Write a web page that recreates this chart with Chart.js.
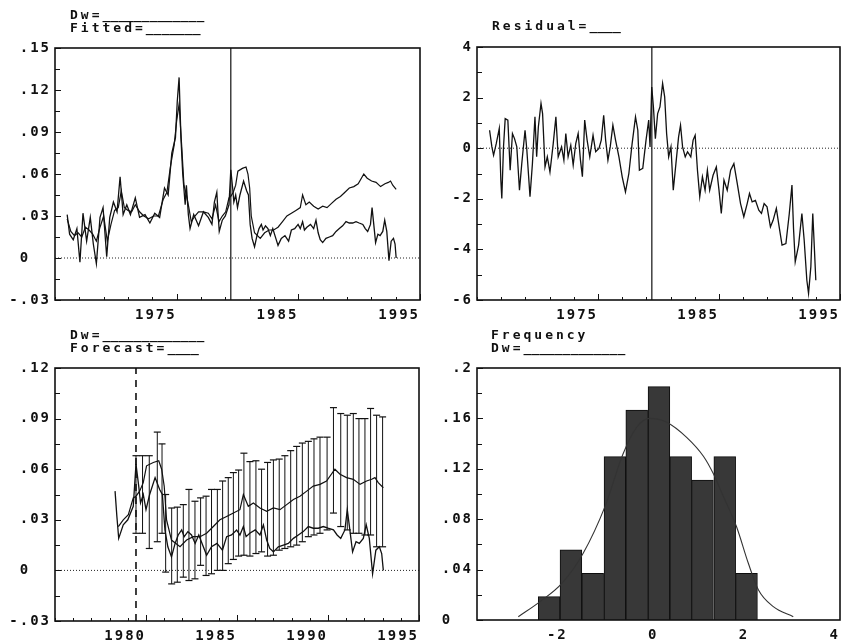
<!DOCTYPE html>
<html>
<head>
<meta charset="utf-8">
<title>Dw: fitted, residual, forecast, frequency</title>
<script src="https://cdn.jsdelivr.net/npm/chart.js@4.4.1/dist/chart.umd.min.js"></script>
<style>
    html, body { margin: 0; padding: 0; background: #fff; }
    #page { position: relative; width: 848px; height: 643px; overflow: hidden; background: #fff; }
    #page canvas { position: absolute; display: block; }
    .caption {
        position: absolute;
        font: bold 13px "DejaVu Sans Mono", monospace;
        line-height: 13px;
        letter-spacing: 3px;
        color: #111;
        white-space: pre;
    }
    .blank { letter-spacing: 0; }
</style>
</head>
<body>
<div id="page">
    <canvas id="fitChart" width="427" height="322" style="left:0;top:0"></canvas>
    <canvas id="residChart" width="425" height="322" style="left:422px;top:0"></canvas>
    <canvas id="forecastChart" width="426" height="323" style="left:0;top:320px"></canvas>
    <canvas id="freqChart" width="425" height="323" style="left:422px;top:320px"></canvas>

    <div class="caption" style="left:70px;top:8px">Dw=<span class="blank">_____________</span>
Fitted=<span class="blank">_______</span></div>
    <div class="caption" style="left:492px;top:19px">Residual=<span class="blank">____</span></div>
    <div class="caption" style="left:70px;top:328px">Dw=<span class="blank">_____________</span>
Forecast=<span class="blank">____</span></div>
    <div class="caption" style="left:491px;top:328px">Frequency
Dw=<span class="blank">_____________</span></div>
</div>

<script>
// THEME
const INK = '#111';
const TICK_FONT = { family: "'DejaVu Sans Mono', monospace", size: 14, weight: 'bold' };

// SAMPLE SPLIT (end of estimation period)
const splitYear = 1979.45;

// DW: ACTUAL SERIES
const dwYears = [
    1966.00, 1966.20, 1966.50, 1966.80, 1967.05, 1967.30, 1967.60, 1967.90, 1968.15, 1968.40,
    1968.70, 1968.95, 1969.25, 1969.50, 1969.80, 1970.10, 1970.35, 1970.60, 1970.90, 1971.20,
    1971.60, 1971.95, 1972.40, 1972.80, 1973.20, 1973.60, 1974.00, 1974.30, 1974.60, 1974.90,
    1975.05, 1975.20, 1975.35, 1975.50, 1975.70, 1975.80, 1975.96, 1976.10, 1976.40, 1976.80,
    1977.20, 1977.60, 1977.90, 1978.10, 1978.30, 1978.40, 1978.50, 1978.75, 1979.00, 1979.30,
    1979.45, 1979.60, 1979.70, 1979.85, 1980.00, 1980.20, 1980.50, 1980.75, 1980.90, 1981.04,
    1981.20, 1981.40, 1981.60, 1981.77, 1981.96, 1982.10, 1982.30, 1982.50, 1982.70, 1982.90,
    1983.15, 1983.33, 1983.60, 1983.90, 1984.20, 1984.43, 1984.70, 1984.98, 1985.16, 1985.35,
    1985.50, 1985.70, 1986.00, 1986.26, 1986.45, 1986.63, 1986.80, 1987.00, 1987.27, 1987.55,
    1987.82, 1988.10, 1988.37, 1988.64, 1988.92, 1989.19, 1989.47, 1989.74, 1990.00, 1990.30,
    1990.50, 1990.70, 1990.93, 1991.06, 1991.20, 1991.35, 1991.54, 1991.72, 1991.94, 1992.10,
    1992.27, 1992.45, 1992.63, 1992.82, 1992.95, 1993.04
];
const dwValues = [
    0.031, 0.017, 0.013, 0.021, -0.003, 0.032, 0.012, 0.029, 0.010, -0.004,
    0.029, 0.036, 0.001, 0.029, 0.040, 0.033, 0.058, 0.031, 0.038, 0.031,
    0.043, 0.029, 0.031, 0.025, 0.032, 0.029, 0.050, 0.045, 0.075, 0.086,
    0.112, 0.129, 0.086, 0.060, 0.038, 0.052, 0.031, 0.021, 0.031, 0.023,
    0.033, 0.029, 0.024, 0.040, 0.047, 0.032, 0.019, 0.027, 0.030, 0.038,
    0.063, 0.050, 0.040, 0.045, 0.036, 0.045, 0.055, 0.048, 0.045, 0.024,
    0.014, 0.008, 0.016, 0.021, 0.024, 0.020, 0.023, 0.021, 0.016, 0.021,
    0.014, 0.009, 0.014, 0.016, 0.012, 0.020, 0.021, 0.024, 0.021, 0.026,
    0.020, 0.022, 0.024, 0.021, 0.027, 0.018, 0.013, 0.011, 0.014, 0.015,
    0.016, 0.019, 0.021, 0.023, 0.026, 0.025, 0.025, 0.026, 0.025, 0.024,
    0.021, 0.019, 0.024, 0.036, 0.024, 0.011, 0.017, 0.016, 0.019, 0.027,
    0.019, -0.002, 0.012, 0.014, 0.010, 0.000
];

// FITTED / FORECAST SERIES
const fitYears = [
    1966.00, 1966.30, 1966.60, 1966.90, 1967.20, 1967.50, 1967.80, 1968.10, 1968.40, 1968.70,
    1969.00, 1969.30, 1969.60, 1969.90, 1970.20, 1970.45, 1970.70, 1971.00, 1971.30, 1971.60,
    1971.95, 1972.30, 1972.70, 1973.10, 1973.50, 1973.90, 1974.20, 1974.50, 1974.80, 1975.00,
    1975.20, 1975.40, 1975.60, 1975.80, 1976.00, 1976.20, 1976.50, 1976.80, 1977.20, 1977.60,
    1977.90, 1978.20, 1978.48, 1978.75, 1979.03, 1979.30, 1979.45, 1979.65, 1979.85, 1980.03,
    1980.40, 1980.70, 1980.86, 1981.00, 1981.13, 1981.40, 1981.87, 1982.23, 1982.60, 1982.97,
    1983.33, 1983.70, 1984.06, 1984.43, 1984.80, 1985.16, 1985.35, 1985.62, 1985.90, 1986.26,
    1986.63, 1987.00, 1987.36, 1987.73, 1988.10, 1988.46, 1988.83, 1989.19, 1989.56, 1989.92,
    1990.38, 1990.66, 1991.02, 1991.39, 1991.76, 1992.12, 1992.40, 1992.58, 1992.76, 1993.04
];
const fitValues = [
    0.028, 0.019, 0.016, 0.018, 0.015, 0.022, 0.020, 0.017, 0.012, 0.022,
    0.030, 0.012, 0.024, 0.034, 0.036, 0.048, 0.036, 0.034, 0.033, 0.038,
    0.033, 0.030, 0.028, 0.030, 0.030, 0.042, 0.047, 0.066, 0.081, 0.098,
    0.110, 0.082, 0.052, 0.045, 0.036, 0.026, 0.030, 0.033, 0.033, 0.032,
    0.028, 0.038, 0.026, 0.030, 0.033, 0.043, 0.044, 0.047, 0.052, 0.062,
    0.064, 0.065, 0.060, 0.050, 0.030, 0.018, 0.014, 0.018, 0.020, 0.020,
    0.022, 0.026, 0.030, 0.032, 0.034, 0.036, 0.045, 0.038, 0.040, 0.037,
    0.035, 0.037, 0.036, 0.039, 0.042, 0.044, 0.047, 0.050, 0.051, 0.053,
    0.060, 0.057, 0.055, 0.054, 0.051, 0.053, 0.054, 0.055, 0.052, 0.049
];

// RESIDUAL SERIES
const residYears = [
    1966.04, 1966.23, 1966.37, 1966.59, 1966.84, 1966.97, 1967.05, 1967.19, 1967.33, 1967.55,
    1967.74, 1967.93, 1968.10, 1968.29, 1968.51, 1968.70, 1968.97, 1969.11, 1969.38, 1969.58,
    1969.79, 1969.93, 1970.07, 1970.29, 1970.42, 1970.62, 1970.81, 1971.03, 1971.30, 1971.52,
    1971.71, 1971.99, 1972.18, 1972.34, 1972.53, 1972.75, 1972.95, 1973.16, 1973.36, 1973.55,
    1973.71, 1973.90, 1974.10, 1974.32, 1974.59, 1974.81, 1975.08, 1975.27, 1975.47, 1975.63,
    1975.82, 1976.01, 1976.23, 1976.45, 1976.73, 1977.00, 1977.27, 1977.55, 1977.82, 1978.10,
    1978.29, 1978.42, 1978.70, 1978.97, 1979.19, 1979.30, 1979.44, 1979.58, 1979.74, 1979.93,
    1980.12, 1980.34, 1980.51, 1980.67, 1980.84, 1981.03, 1981.22, 1981.44, 1981.66, 1981.82,
    1981.99, 1982.21, 1982.40, 1982.67, 1982.86, 1983.03, 1983.22, 1983.41, 1983.63, 1983.85,
    1984.04, 1984.23, 1984.51, 1984.78, 1985.00, 1985.19, 1985.41, 1985.68, 1985.96, 1986.23,
    1986.51, 1986.78, 1987.05, 1987.33, 1987.52, 1987.74, 1988.01, 1988.29, 1988.51, 1988.73,
    1988.97, 1989.25, 1989.47, 1989.74, 1989.93, 1990.21, 1990.53, 1990.81, 1991.03, 1991.16,
    1991.30, 1991.58, 1991.85, 1992.04, 1992.26, 1992.40, 1992.59, 1992.75, 1992.89, 1993.00
];
const residValues = [
    0.71, 0.05, -0.28, 0.18, 0.78, -1.26, -1.99, 0.05, 1.17, 1.11,
    -0.87, 0.58, 0.38, 0.05, -1.66, -0.61, 0.71, -0.01, -1.92, -0.61,
    1.24, -0.34, 0.84, 1.77, 1.37, -0.74, -0.34, -0.94, 0.18, 1.24,
    -0.34, 0.05, -0.47, 0.58, -0.34, 0.12, -0.67, 0.18, 0.58, -0.47,
    -1.13, 1.11, 0.32, -0.34, 0.51, -0.14, -0.01, 0.32, 1.30, 0.32,
    -0.47, 0.05, 0.91, 0.32, -0.34, -1.13, -1.73, -1.00, 0.18, 1.24,
    0.71, -0.87, -0.80, 0.32, 1.11, 0.05, 2.42, 1.63, 0.38, 1.37,
    1.63, 2.56, 2.03, 0.58, -0.34, 0.05, -1.66, -0.61, 0.45, 0.91,
    0.05, -0.34, -0.14, -0.34, 0.32, 0.51, -0.87, -1.92, -1.13, -1.66,
    -0.87, -1.66, -1.07, -0.74, -1.66, -2.58, -1.26, -1.66, -0.87, -0.61,
    -1.40, -2.19, -2.71, -2.19, -1.79, -2.12, -2.06, -2.45, -2.58, -2.19,
    -2.32, -3.11, -2.85, -2.38, -2.98, -3.83, -3.77, -2.58, -1.46, -3.18,
    -4.49, -3.83, -2.58, -3.64, -5.22, -5.74, -4.69, -2.58, -4.03, -5.22
];

// FORECAST INTERVALS
const bandYears = [
    1979.45, 1979.81, 1980.18, 1980.62, 1980.88, 1981.08, 1981.41, 1981.72, 1982.05, 1982.36,
    1982.69, 1983.00, 1983.30, 1983.60, 1983.92, 1984.21, 1984.52, 1984.80, 1985.09, 1985.38,
    1985.71, 1986.04, 1986.35, 1986.68, 1987.00, 1987.32, 1987.63, 1987.95, 1988.28, 1988.59,
    1988.92, 1989.23, 1989.56, 1989.95, 1990.30, 1990.70, 1991.06, 1991.39, 1991.70, 1992.03,
    1992.34, 1992.67, 1993.00
];
const bandUpper = [
    0.068, 0.068, 0.068, 0.082, 0.075, 0.045, 0.037, 0.0375, 0.039, 0.048,
    0.041, 0.043, 0.044, 0.048, 0.048, 0.053, 0.055, 0.058, 0.0595, 0.0695,
    0.0645, 0.065, 0.060, 0.064, 0.0655, 0.066, 0.068, 0.071, 0.0735, 0.0755,
    0.0765, 0.078, 0.079, 0.079, 0.0965, 0.093, 0.092, 0.093, 0.090, 0.090,
    0.096, 0.092, 0.091
];
const bandLower = [
    0.022, 0.022, 0.013, 0.017, 0.022, -0.001, -0.008, -0.007, -0.004, -0.006,
    -0.005, 0.003, -0.003, -0.002, 0.000, 0.000, 0.004, 0.0065, 0.0085, 0.009,
    0.0085, 0.010, 0.011, 0.0085, 0.009, 0.012, 0.013, 0.014, 0.015, 0.017,
    0.020, 0.021, 0.022, 0.024, 0.034, 0.026, 0.024, 0.022, 0.022, 0.021,
    0.021, 0.014, 0.014
];

// RESIDUAL FREQUENCY (histogram bins + smoothed density)
const binCenters = [-2.41, -1.93, -1.45, -0.96, -0.48, 0.01, 0.49, 0.97, 1.46, 1.94];
const binFreq = [0.0185, 0.0556, 0.0370, 0.1296, 0.1667, 0.1852, 0.1296, 0.1111, 0.1296, 0.0370];
const densityX = [-3.09, -2.61, -2.13, -1.66, -1.18, -0.78, -0.48, -0.19, 0.18, 0.62, 0.99, 1.21, 1.43, 1.72, 1.98, 2.20, 2.53, 2.97];
const densityY = [0.0026, 0.0146, 0.029, 0.053, 0.090, 0.132, 0.153, 0.160, 0.157, 0.145, 0.130, 0.116, 0.098, 0.074, 0.045, 0.024, 0.0106, 0.0026];

// TICK LABELS
const longYearLabels = [1975, 1985, 1995];
const shortYearLabels = [1980, 1985, 1990, 1995];
const fitTickLabels = [-0.03, 0, 0.03, 0.06, 0.09, 0.12, 0.15];
const residTickLabels = [-6, -4, -2, 0, 2, 4];
const forecastTickLabels = [-0.03, 0, 0.03, 0.06, 0.09, 0.12];
const freqTickLabels = [0, 0.04, 0.08, 0.12, 0.16, 0.2];
const freqXLabels = [-2, 0, 2, 4];

// HELPERS
function toPoints(xs, ys, fromX) {
    return xs.map((x, i) => ({ x, y: ys[i] })).filter(p => fromX === undefined || p.x >= fromX);
}

// old plotter style: ".15", "-.03", zero set left of the column
function shortDecimal(v) {
    if (Math.abs(v) < 1e-9) return '0  ';
    const s = String(Number(Math.abs(v).toFixed(3))).replace(/^0/, '');
    return (v < 0 ? '-' : '') + s;
}

function hasLabel(list, v) {
    return list.some(l => Math.abs(l - v) < 1e-9);
}

function xAxis(min, max, step, labels, height) {
    return {
        type: 'linear', min, max, offset: false,
        grid: { display: false, drawTicks: false },
        border: { display: false },
        ticks: {
            stepSize: step, autoSkip: false, maxRotation: 0, minRotation: 0,
            align: 'end', padding: 7, color: INK, font: TICK_FONT,
            callback: v => hasLabel(labels, v) ? String(v) : ''
        },
        afterFit: s => { s.height = height; }
    };
}

function yAxis(min, max, step, labels, fmt) {
    return {
        type: 'linear', min, max,
        grid: { display: false, drawTicks: false },
        border: { display: false },
        ticks: {
            stepSize: step, autoSkip: false, padding: 4, color: INK, font: TICK_FONT,
            callback: v => hasLabel(labels, v) ? fmt(v) : ''
        },
        afterFit: s => { s.width = 55; }
    };
}

function seriesLine(data, extra) {
    return Object.assign({
        type: 'line', data, borderColor: INK, borderWidth: 1.3,
        pointRadius: 0, fill: false, tension: 0
    }, extra || {});
}

function hLine(y, x0, x1) {
    return seriesLine([{ x: x0, y }, { x: x1, y }], { borderWidth: 1, borderDash: [1, 2], borderColor: '#222' });
}

function vLine(x, y0, y1, extra) {
    return seriesLine([{ x, y: y0 }, { x, y: y1 }], extra);
}

// FRAME + INWARD TICK MARKS
const frameAndTicks = {
    id: 'frameAndTicks',
    beforeUpdate(chart) { chart.ctx.letterSpacing = '2px'; },
    beforeDraw(chart) { chart.ctx.letterSpacing = '2px'; },
    afterDraw(chart, args, opts) {
        const { ctx, chartArea: a, scales } = chart;
        ctx.save();
        ctx.strokeStyle = INK;
        ctx.lineWidth = 1;
        ctx.beginPath();
        if (opts.xTicks) {
            scales.x.ticks.forEach(t => {
                const len = t.label ? opts.xTicks[1] : opts.xTicks[0];
                const px = Math.round(scales.x.getPixelForValue(t.value)) + 0.5;
                ctx.moveTo(px, a.bottom);
                ctx.lineTo(px, a.bottom - len);
            });
        }
        if (opts.yTicks) {
            scales.y.ticks.forEach(t => {
                const len = t.label ? opts.yTicks[1] : opts.yTicks[0];
                const py = Math.round(scales.y.getPixelForValue(t.value)) + 0.5;
                ctx.moveTo(a.left, py);
                ctx.lineTo(a.left + len, py);
            });
        }
        ctx.stroke();
        ctx.lineWidth = 1.6;
        ctx.strokeRect(a.left, a.top, a.right - a.left, a.bottom - a.top);
        ctx.restore();
    }
};
Chart.register(frameAndTicks);

function baseOptions(topPad, scales, ticks) {
    return {
        responsive: false,
        animation: false,
        events: [],
        devicePixelRatio: 1,
        layout: { padding: { top: topPad, left: 0, right: 0, bottom: 0 } },
        scales,
        plugins: {
            legend: { display: false },
            tooltip: { enabled: false },
            frameAndTicks: ticks
        }
    };
}

// TOP LEFT: actual vs fitted
new Chart(document.getElementById('fitChart'), {
    type: 'line',
    data: {
        datasets: [
            hLine(0, 1965, 1995),
            vLine(splitYear, -0.03, 0.15, { borderWidth: 1.2 }),
            seriesLine(toPoints(fitYears, fitValues), { borderWidth: 1.2 }),
            seriesLine(toPoints(dwYears, dwValues))
        ]
    },
    options: baseOptions(48, {
        x: xAxis(1965, 1995, 2, longYearLabels, 22),
        y: yAxis(-0.03, 0.15, 0.015, fitTickLabels, shortDecimal)
    }, { xTicks: [3, 6], yTicks: [5, 6] })
});

// TOP RIGHT: residual
new Chart(document.getElementById('residChart'), {
    type: 'line',
    data: {
        datasets: [
            hLine(0, 1965, 1995),
            vLine(splitYear, -6, 4, { borderWidth: 1.2 }),
            seriesLine(toPoints(residYears, residValues))
        ]
    },
    options: baseOptions(47, {
        x: xAxis(1965, 1995, 2, longYearLabels, 22),
        y: yAxis(-6, 4, 1, residTickLabels, v => String(v))
    }, { xTicks: [3, 6], yTicks: [5, 6] })
});

// BOTTOM LEFT: out-of-sample forecast with intervals
const stems = [];
bandYears.forEach((x, i) => {
    stems.push({ x, y: bandLower[i] }, { x, y: bandUpper[i] }, { x, y: null });
});
const caps = toPoints(bandYears, bandLower).concat(toPoints(bandYears, bandUpper));

new Chart(document.getElementById('forecastChart'), {
    type: 'line',
    data: {
        datasets: [
            hLine(0, 1975, 1995),
            vLine(splitYear, -0.03, 0.12, { borderWidth: 1.6, borderDash: [7, 6] }),
            seriesLine(stems, { borderWidth: 1, spanGaps: false }),
            seriesLine(caps, { showLine: false, pointStyle: 'line', pointRadius: 3.5,
                pointBorderWidth: 1.2, pointBorderColor: INK }),
            seriesLine(toPoints(fitYears, fitValues, 1978.25), { borderWidth: 1.2 }),
            seriesLine(toPoints(dwYears, dwValues, 1978.25))
        ]
    },
    options: baseOptions(48, {
        x: xAxis(1975, 1995, 1, shortYearLabels, 22),
        y: yAxis(-0.03, 0.12, 0.015, forecastTickLabels, shortDecimal)
    }, { xTicks: [3, 6], yTicks: [5, 6] })
});

// BOTTOM RIGHT: residual frequency
new Chart(document.getElementById('freqChart'), {
    type: 'line',
    data: {
        datasets: [
            seriesLine(toPoints(densityX, densityY), {
                borderWidth: 1.1, borderColor: '#333', tension: 0.4,
                cubicInterpolationMode: 'monotone', order: 0
            }),
            {
                type: 'bar',
                data: toPoints(binCenters, binFreq),
                backgroundColor: '#383838',
                borderColor: '#0d0d0d',
                borderWidth: 1,
                barPercentage: 1,
                categoryPercentage: 1,
                order: 1
            }
        ]
    },
    options: baseOptions(48, {
        x: xAxis(-4, 4, 2, freqXLabels, 23),
        y: yAxis(0, 0.2, 0.02, freqTickLabels, shortDecimal)
    }, { yTicks: [5, 6] })
});
</script>
</body>
</html>
